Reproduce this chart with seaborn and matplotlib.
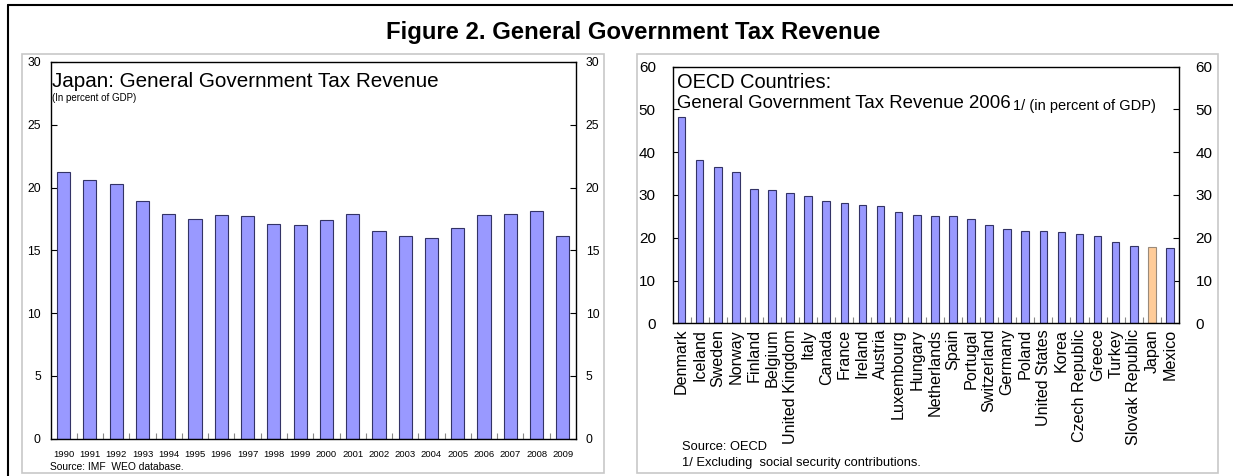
import matplotlib
matplotlib.use("Agg")
import matplotlib.pyplot as plt
import seaborn as sns
import pandas as pd
import numpy as np
from matplotlib.patches import Rectangle
from matplotlib.lines import Line2D
from matplotlib.ticker import MultipleLocator, FixedLocator

# ---------------- data ----------------
years = ["1990", "1991", "1992", "1993", "1994", "1995", "1996", "1997", "1998", "1999",
         "2000", "2001", "2002", "2003", "2004", "2005", "2006", "2007", "2008", "2009"]
japan_tax = [21.2, 20.6, 20.3, 18.9, 17.9, 17.5, 17.8, 17.7, 17.1, 17.0,
             17.4, 17.9, 16.5, 16.1, 16.0, 16.8, 17.8, 17.9, 18.1, 16.1]

countries = ["Denmark", "Iceland", "Sweden", "Norway", "Finland", "Belgium", "United Kingdom",
             "Italy", "Canada", "France", "Ireland", "Austria", "Luxembourg", "Hungary",
             "Netherlands", "Spain", "Portugal", "Switzerland", "Germany", "Poland",
             "United States", "Korea", "Czech Republic", "Greece", "Turkey",
             "Slovak Republic", "Japan", "Mexico"]
oecd_tax = [48.2, 38.2, 36.6, 35.4, 31.4, 31.1, 30.4, 29.8, 28.6, 28.2, 27.7, 27.4, 26.1,
            25.3, 25.2, 25.0, 24.4, 22.9, 22.1, 21.6, 21.6, 21.4, 20.9, 20.5, 19.1, 18.1,
            17.8, 17.6]
highlight = "Japan"

BAR = "#9999FF"
HIGH = "#FFCC99"

# ---------------- figure ----------------
W, H = 1233, 476
sns.set_theme(style="white")
plt.rcParams["font.family"] = ["Liberation Sans", "DejaVu Sans"]
plt.rcParams["text.color"] = "black"
plt.rcParams["xtick.color"] = "black"
plt.rcParams["ytick.color"] = "black"
plt.rcParams["axes.labelcolor"] = "black"

fig = plt.figure(figsize=(W / 100, H / 100), dpi=100)
fig.patch.set_facecolor("white")


def px_axes(x0, y0, x1, y1):
    return fig.add_axes([x0 / W, 1 - y1 / H, (x1 - x0) / W, (y1 - y0) / H])


def ftext(x, y, s, **kw):
    kw.setdefault("va", "center")
    kw.setdefault("ha", "left")
    kw.setdefault("color", "black")
    fig.text(x / W, 1 - y / H, s, **kw)


# outer frame (top + left lines)
fig.add_artist(Line2D([7.5 / W, 1.0], [1 - 4.5 / H, 1 - 4.5 / H], color="black", lw=1.5,
                      transform=fig.transFigure))
fig.add_artist(Line2D([7.5 / W, 7.5 / W], [0.0, 1 - 4.5 / H], color="black", lw=1.5,
                      transform=fig.transFigure))

# gray panel boxes
for (x0, y0, x1, y1) in [(22.5, 53.5, 603.5, 473), (636.5, 53.5, 1218, 473)]:
    fig.add_artist(Rectangle((x0 / W, 1 - y1 / H), (x1 - x0) / W, (y1 - y0) / H,
                             transform=fig.transFigure, fill=False,
                             edgecolor="#c8c8c8", lw=1.2))

ftext(633, 33, "Figure 2. General Government Tax Revenue", ha="center",
      fontsize=17.2, fontweight="bold")

# ---------------- left panel ----------------
ax1 = px_axes(50.5, 62, 576, 438.5)
df1 = pd.DataFrame({"year": years, "value": japan_tax})
sns.barplot(data=df1, x="year", y="value", ax=ax1, color=BAR, saturation=1,
            width=0.5, edgecolor="#333366", linewidth=0.8)
ax1.set_ylim(0, 30)
ax1.set_xlim(-0.5, len(years) - 0.5)
ax1.yaxis.set_major_locator(MultipleLocator(5))
ax1.tick_params(axis="y", which="major", direction="in", length=4, width=0.8,
                left=True, right=True, labelleft=True, labelright=True,
                labelsize=8.7, pad=7, color="black", labelcolor="black")
ax1.tick_params(axis="x", which="major", length=0, labelsize=6.8, pad=8,
                labelcolor="black")
ax1.xaxis.set_minor_locator(FixedLocator(np.arange(0.5, len(years) - 1, 1.0)))
ax1.tick_params(axis="x", which="minor", direction="in", length=4, width=0.8,
                color="#888888", bottom=True)
ax1.set_xlabel("")
ax1.set_ylabel("")
for sp in ax1.spines.values():
    sp.set_color("black")
    sp.set_linewidth(1.0)

ftext(52, 81, "Japan: General Government Tax Revenue", fontsize=14.9)
ftext(52, 98, "(In percent of GDP)", fontsize=7.0)
ftext(50, 467, "Source: IMF  WEO database.", fontsize=7.4)

# ---------------- right panel ----------------
ax2 = px_axes(672.5, 66.7, 1179, 323.3)
df2 = pd.DataFrame({"country": countries, "value": oecd_tax})
pal = {c: (HIGH if c == highlight else BAR) for c in countries}
sns.barplot(data=df2, x="country", y="value", hue="country", palette=pal, legend=False,
            ax=ax2, saturation=1, width=0.42, edgecolor="#333366", linewidth=0.8)
for patch, c in zip(ax2.patches, countries):
    if c == highlight:
        patch.set_edgecolor("#9a8a7a")
ax2.set_ylim(0, 60)
ax2.set_xlim(-0.5, len(countries) - 0.5)
ax2.yaxis.set_major_locator(MultipleLocator(10))
ax2.tick_params(axis="y", which="major", direction="in", length=4, width=0.8,
                left=True, right=True, labelleft=True, labelright=True,
                labelsize=11, pad=12, color="black", labelcolor="black")
ax2.tick_params(axis="x", which="major", length=0, labelsize=11.6, pad=4,
                labelrotation=90, labelcolor="black")
ax2.xaxis.set_minor_locator(FixedLocator(np.arange(0.5, len(countries) - 1, 1.0)))
ax2.tick_params(axis="x", which="minor", direction="in", length=4, width=0.8,
                color="#888888", bottom=True)
ax2.set_xlabel("")
ax2.set_ylabel("")
for sp in ax2.spines.values():
    sp.set_color("black")
    sp.set_linewidth(1.0)

ftext(677, 82, "OECD Countries:", fontsize=14.4)
ftext(677, 104, "General Government Tax Revenue 2006", fontsize=13.4)
ftext(1013, 106, "1/ (in percent of GDP)", fontsize=10.5)
ftext(682, 447, "Source: OECD", fontsize=9.3)
ftext(682, 463, "1/ Excluding  social security contributions.", fontsize=9.3)

fig.savefig("out.png", dpi=100, facecolor="white")
